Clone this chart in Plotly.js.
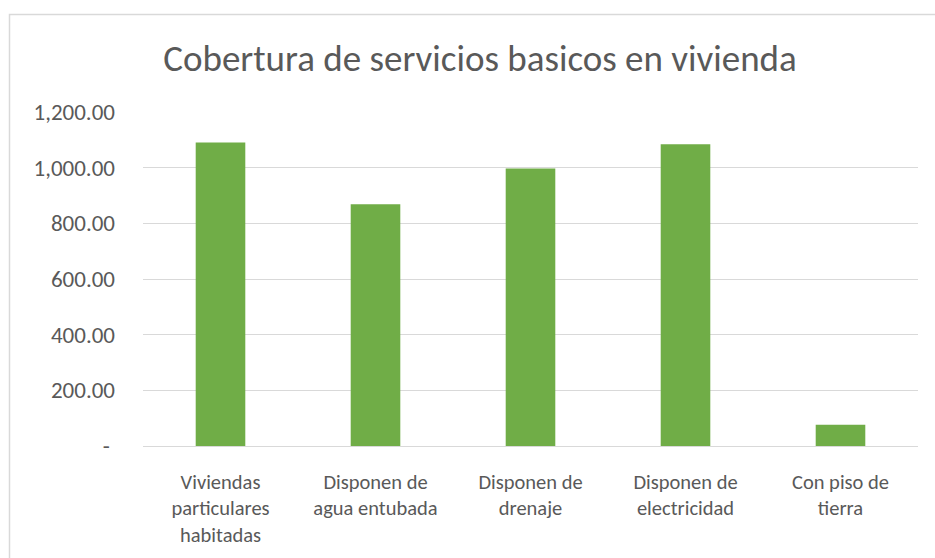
<!DOCTYPE html>
<html>
<head>
<meta charset="utf-8">
<script src="https://cdn.plot.ly/plotly-3.0.1.min.js"></script>
<style>html,body{margin:0;padding:0;background:#fff;}</style>
</head>
<body>
<div id="chart" style="width:935px;height:558px;"></div>
<script>
const categories = [
  "Viviendas<br>particulares<br>habitadas",
  "Disponen de<br>agua entubada",
  "Disponen de<br>drenaje",
  "Disponen de<br>electricidad",
  "Con piso de<br>tierra"
];
const values = [1090, 869, 997, 1084, 76];
const yTickVals = [0, 200, 400, 600, 800, 1000, 1200];
const yTickText = ["-\u00a0", "200.00", "400.00", "600.00", "800.00", "1,000.00", "1,200.00"];

const FONT = "Carlito, Calibri, Lato, 'Open Sans', sans-serif";
const W = 935, H = 558;
const L = 143, R = 17, T = 112, B = 112;
const pw = W - L - R, ph = H - T - B;

const data = [{
  type: "bar",
  x: categories,
  y: values,
  marker: {color: "#70AD47"},
  hoverinfo: "x+y"
}];

const layout = {
  width: W, height: H,
  margin: {l: L, r: R, t: T, b: B, pad: 0},
  paper_bgcolor: "#fff",
  plot_bgcolor: "#fff",
  showlegend: false,
  bargap: 0.68,
  title: {
    text: "Cobertura de servicios basicos en vivienda",
    font: {family: FONT, size: 37, color: "#595959"},
    xref: "container", x: 480 / W, xanchor: "center",
    yref: "container", y: 1 - 58 / H, yanchor: "middle"
  },
  xaxis: {
    type: "category",
    tickfont: {family: FONT, size: 20.5, color: "#595959"},
    showgrid: false,
    showline: false,
    ticks: "",
    ticklabelstandoff: 21
  },
  yaxis: {
    range: [0, 1200],
    tickvals: yTickVals,
    ticktext: yTickText,
    tickfont: {family: FONT, size: 23, color: "#595959"},
    gridcolor: "#d9d9d9",
    gridwidth: 1,
    zeroline: true,
    zerolinecolor: "#d9d9d9",
    zerolinewidth: 1,
    showline: false,
    ticks: "",
    ticklabelstandoff: 27
  },
  shapes: [{
    type: "rect",
    xref: "paper", yref: "paper",
    x0: (9.5 - L) / pw, x1: 2,
    y0: -2, y1: (H - B - 14.5) / ph,
    line: {color: "#d9d9d9", width: 1.5},
    fillcolor: "rgba(0,0,0,0)",
    layer: "below"
  }]
};

Plotly.newPlot("chart", data, layout, {displayModeBar: false, staticPlot: true});
</script>
</body>
</html>
